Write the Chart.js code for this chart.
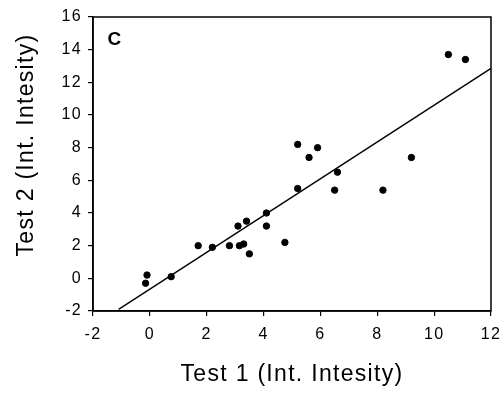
<!DOCTYPE html>
<html>
<head>
<meta charset="utf-8">
<script src="https://cdn.jsdelivr.net/npm/chart.js"></script>
<style>
  html, body { margin: 0; padding: 0; background: #fff; }
  #wrap { width: 502px; height: 393px; }
</style>
</head>
<body>
<div id="wrap"><canvas id="chart" width="502" height="393"></canvas></div>
<script>
// measured points (Test 1, Test 2)
const test1 = [-0.15, -0.1, 0.75, 1.7, 2.2, 2.8, 3.1, 3.15, 3.3, 3.4, 3.5, 4.1, 4.1, 4.75, 5.2, 5.2, 5.6, 5.9, 6.5, 6.6, 8.2, 9.2, 10.5, 11.1];
const test2 = [-0.3, 0.2, 0.1, 2.0, 1.9, 2.0, 3.2, 2.0, 2.1, 3.5, 1.5, 4.0, 3.2, 2.2, 8.2, 5.5, 7.4, 8.0, 5.4, 6.5, 5.4, 7.4, 13.7, 13.4];

// regression line end points
const fitX = [-1.1, 12];
const fitY = [-1.9, 12.85];

const xTicks = [-2, 0, 2, 4, 6, 8, 10, 12];
const yTicks = [-2, 0, 2, 4, 6, 8, 10, 12, 14, 16];

const font = 'Arial, "Liberation Sans", sans-serif';

// the scanned lettering is wider than plain Arial
const spacing = {
  id: 'spacing',
  beforeUpdate(chart) { chart.ctx.letterSpacing = '1.3px'; },
  beforeDraw(chart) { chart.ctx.letterSpacing = '1.3px'; }
};

// frame around the plot, panel letter and y title
const framePlugin = {
  id: 'frame',
  afterDraw(chart) {
    const { ctx, chartArea: a } = chart;
    ctx.save();
    ctx.strokeStyle = '#000';
    ctx.lineWidth = 1.5;
    ctx.strokeRect(a.left, a.top, a.right - a.left, a.bottom - a.top);
    ctx.fillStyle = '#000';
    ctx.font = 'bold 19px ' + font;
    ctx.textBaseline = 'middle';
    ctx.textAlign = 'center';
    ctx.fillText('C', 115, 40);
    ctx.translate(27, 145);
    ctx.rotate(-Math.PI / 2);
    ctx.font = '23px ' + font;
    ctx.fillText('Test 2 (Int. Intesity)', 0, 0);
    ctx.restore();
  }
};

new Chart(document.getElementById('chart'), {
  type: 'scatter',
  data: {
    datasets: [
      {
        data: test1.map((x, i) => ({ x: x, y: test2[i] })),
        backgroundColor: '#000',
        borderColor: '#000',
        pointRadius: 3.2,
        pointHoverRadius: 3.2
      },
      {
        type: 'line',
        data: fitX.map((x, i) => ({ x: x, y: fitY[i] })),
        borderColor: '#000',
        borderWidth: 1.4,
        pointRadius: 0,
        fill: false
      }
    ]
  },
  options: {
    responsive: false,
    animation: false,
    layout: { padding: { top: 17, right: 11, left: 0, bottom: 0 } },
    plugins: { legend: { display: false }, tooltip: { enabled: false } },
    scales: {
      x: {
        type: 'linear',
        min: -2,
        max: 12,
        afterBuildTicks: s => { s.ticks = xTicks.map(v => ({ value: v })); },
        afterFit: s => { s.height = 82; s.paddingLeft = 0; s.paddingRight = 0; },
        grid: { drawOnChartArea: false, color: '#000', tickLength: 5, lineWidth: 1.2 },
        border: { color: '#000', width: 1.5 },
        ticks: { color: '#000', font: { family: font, size: 16 }, padding: 9 },
        title: { display: true, text: 'Test 1 (Int. Intesity)', color: '#000', font: { family: font, size: 23 }, padding: { top: 8, bottom: 5 } }
      },
      y: {
        type: 'linear',
        min: -2,
        max: 16,
        afterBuildTicks: s => { s.ticks = yTicks.map(v => ({ value: v })); },
        afterFit: s => { s.width = 93; s.paddingTop = 0; s.paddingBottom = 0; },
        grid: { drawOnChartArea: false, color: '#000', tickLength: 5, lineWidth: 1.2 },
        border: { color: '#000', width: 1.5 },
        ticks: { color: '#000', font: { family: font, size: 16 }, padding: 6 }
      }
    }
  },
  plugins: [spacing, framePlugin]
});
</script>
</body>
</html>
